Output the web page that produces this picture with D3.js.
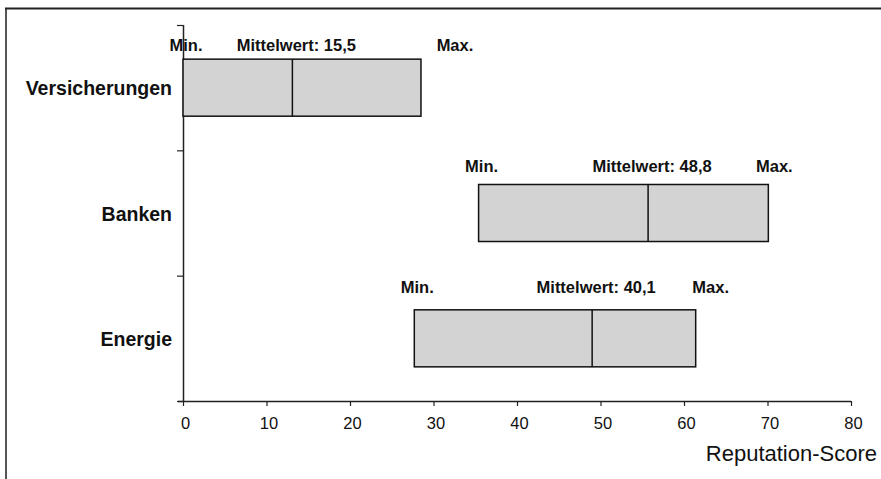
<!DOCTYPE html>
<html>
<head>
<meta charset="utf-8">
<script src="https://cdn.jsdelivr.net/npm/d3@7/dist/d3.min.js"></script>
<style>
  html, body { margin: 0; padding: 0; background: #fff; }
  svg { display: block; font-family: Arial, "Liberation Sans", sans-serif; }
</style>
</head>
<body>
<svg id="chart" width="881" height="479"></svg>
<script>
// ---- data ----
const categories = ["Versicherungen", "Banken", "Energie"];
const minValues  = [0, 35.4, 27.7];
const meanValues = [13.1, 55.7, 49.0];
const maxValues  = [28.5, 70.1, 61.4];
const meanLabels = ["15,5", "48,8", "40,1"];
const xTicks     = [0, 10, 20, 30, 40, 50, 60, 70, 80];
const xTitle     = "Reputation-Score";

// ---- layout (not data) ----
const W = 881, H = 479;
const plot = { left: 183, right: 851, top: 25, bottom: 401 };
const maxLabelShift = [34, 6, 15];
const labelRise = [8, 12, 17];

const svg = d3.select("#chart");

// frame
svg.append("line").attr("x1", 6).attr("x2", 6).attr("y1", 8).attr("y2", H)
  .attr("stroke", "#555").attr("stroke-width", 2);
svg.append("line").attr("x1", 5).attr("x2", W).attr("y1", 8.5).attr("y2", 8.5)
  .attr("stroke", "#222").attr("stroke-width", 2);

const x = d3.scaleLinear().domain([0, 80]).range([plot.left, plot.right]);
const y = d3.scaleBand().domain(categories).range([plot.top, plot.bottom])
  .paddingInner(0.545).paddingOuter(0.2725);
const yTickScale = d3.scaleLinear().domain([0, categories.length]).range([plot.top, plot.bottom]);

// x axis
const xAxis = svg.append("g")
  .attr("transform", `translate(0,${plot.bottom})`)
  .call(d3.axisBottom(x).tickValues(xTicks).tickSize(5).tickPadding(11).tickSizeOuter(0));
xAxis.select(".domain").attr("stroke", "#222").attr("stroke-width", 1.5)
  .attr("d", `M${plot.left - 5},0.5H${plot.right}`);
xAxis.selectAll(".tick line").attr("stroke", "#222").attr("stroke-width", 1.2);
xAxis.selectAll(".tick text").attr("font-size", 16.5).attr("fill", "#111")
  .attr("dx", 2)
  .attr("font-family", "Arial, 'Liberation Sans', sans-serif");

// y axis (ticks between categories)
const yAxis = svg.append("g")
  .attr("transform", `translate(${plot.left},0)`)
  .call(d3.axisLeft(yTickScale).tickValues(d3.range(0, categories.length + 1)).tickSize(6).tickFormat(""));
yAxis.select(".domain").attr("stroke", "#222").attr("stroke-width", 1.5)
  .attr("d", `M0.5,${plot.top}V${plot.bottom}`);
yAxis.selectAll(".tick line").attr("stroke", "#222").attr("stroke-width", 1.2);

// category labels
svg.append("g").selectAll("text").data(categories).join("text")
  .attr("x", 172)
  .attr("y", d => y(d) + y.bandwidth() / 2 + 7.5)
  .attr("text-anchor", "end")
  .attr("font-size", 19.5).attr("font-weight", "bold").attr("fill", "#111")
  .text(d => d);

// bars
const rows = categories.map((c, i) => ({ c, i, min: minValues[i], mean: meanValues[i], max: maxValues[i], ml: meanLabels[i] }));
const g = svg.append("g");
g.selectAll("rect").data(rows).join("rect")
  .attr("x", d => x(d.min))
  .attr("y", d => y(d.c))
  .attr("width", d => x(d.max) - x(d.min))
  .attr("height", y.bandwidth())
  .attr("fill", "#d3d3d3").attr("stroke", "#111").attr("stroke-width", 1.5);
g.selectAll("line.mean").data(rows).join("line").attr("class", "mean")
  .attr("x1", d => x(d.mean)).attr("x2", d => x(d.mean))
  .attr("y1", d => y(d.c)).attr("y2", d => y(d.c) + y.bandwidth())
  .attr("stroke", "#111").attr("stroke-width", 1.5);

// top labels
const lab = svg.append("g").attr("font-size", 16.5).attr("font-weight", "bold").attr("fill", "#111").attr("text-anchor", "middle");
lab.selectAll("text.min").data(rows).join("text").attr("class", "min")
  .attr("x", d => x(d.min) + 3).attr("y", d => y(d.c) - labelRise[d.i]).text("Min.");
lab.selectAll("text.mean").data(rows).join("text").attr("class", "mean")
  .attr("x", d => x(d.mean) + 4).attr("y", d => y(d.c) - labelRise[d.i]).text(d => "Mittelwert: " + d.ml);
lab.selectAll("text.max").data(rows).join("text").attr("class", "max")
  .attr("x", d => x(d.max) + maxLabelShift[d.i]).attr("y", d => y(d.c) - labelRise[d.i]).text("Max.");

// x title
svg.append("text").attr("x", 877).attr("y", 461).attr("text-anchor", "end")
  .attr("font-size", 22).attr("fill", "#111").text(xTitle);
</script>
</body>
</html>
